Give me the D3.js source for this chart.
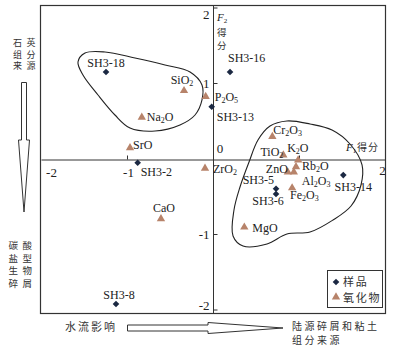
<!DOCTYPE html>
<html>
<head>
<meta charset="utf-8">
<script src="https://cdn.jsdelivr.net/npm/d3@7"></script>
<style>
  body { margin: 0; background: #fff; }
  svg text { font-family: "Liberation Serif", "Times New Roman", serif; fill: #222; }
  svg text.cn { font-family: "Noto Sans CJK SC", sans-serif; fill: #333; }
</style>
</head>
<body>
<div id="chart"></div>
<script>
// samples (F1, F2 scores)
const sampleNames = ["SH3-18", "SH3-16", "SH3-13", "SH3-2", "SH3-5", "SH3-6", "SH3-14", "SH3-8"];
const sampleF1 = [-1.244, 0.198, -0.015, -0.876, 0.733, 0.733, 1.515, -1.128];
const sampleF2 = [1.146, 1.146, 0.686, -0.056, -0.40, -0.47, -0.22, -1.927];

// oxides (F1, F2 loadings)
const oxideNames = ["SiO2", "Na2O", "P2O5", "SrO", "CaO", "ZrO2", "Cr2O3", "TiO2", "K2O", "Rb2O", "Al2O3", "ZnO", "Fe2O3", "MgO"];
const oxideF1 = [-0.337, -0.828, -0.085, -0.965, -0.605, -0.093, 0.690, 0.818, 0.99, 0.965, 0.94, 0.87, 0.92, 0.364];
const oxideF2 = [0.898, 0.544, 0.82, 0.14, -0.80, -0.13, 0.29, 0.046, -0.02, -0.11, -0.18, -0.18, -0.39, -0.91];

// the two grouping outlines
const groupQuartz = [[-1.570, 1.278], [-1.488, 1.397], [-1.256, 1.411], [-0.907, 1.331], [-0.558, 1.238],
  [-0.267, 1.146], [-0.128, 0.974], [-0.128, 0.775], [-0.209, 0.576], [-0.384, 0.444], [-0.674, 0.364],
  [-0.965, 0.404], [-1.140, 0.576], [-1.337, 0.841], [-1.512, 1.106]];
const groupTerrigenous = [[0.523, 0.245], [0.663, 0.430], [0.860, 0.497], [1.128, 0.457], [1.384, 0.377],
  [1.593, 0.192], [1.733, -0.086], [1.721, -0.351], [1.605, -0.629], [1.395, -0.815], [1.128, -0.974],
  [0.860, -1.000], [0.628, -1.132], [0.349, -1.159], [0.233, -1.026], [0.244, -0.682], [0.314, -0.377],
  [0.419, -0.046]];

const xTicks = [-2, -1, 0, 1, 2];
const yTicks = [-2, -1, 1, 2];

// label placement: [anchor, dx, dy]
const labelPos = {
  "SH3-18": ["middle", 0, -5], "SH3-16": ["start", -2, -10], "SH3-13": ["start", 5, 14],
  "SH3-2": ["start", 3, 13], "SH3-5": ["end", -2, -5], "SH3-6": ["middle", -8, 11],
  "SH3-14": ["middle", 10, 16], "SH3-8": ["middle", 3, -5],
  "SiO2": ["middle", -2, -7], "Na2O": ["start", 5, 4], "P2O5": ["start", 9, 4],
  "SrO": ["start", 3, 1], "CaO": ["middle", 3, -7], "ZrO2": ["start", 8, 5],
  "Cr2O3": ["start", 1, -3], "TiO2": ["end", 0, 1], "K2O": ["start", -11, -8],
  "Rb2O": ["start", 6, 3], "Al2O3": ["start", 8, 13], "ZnO": ["end", 0, 1],
  "Fe2O3": ["start", -2, 11], "MgO": ["start", 8, 5]
};

const W = 398, H = 348;
const frame = { left: 40, top: 5, right: 385, bottom: 313 };
const sampleColor = "#1b2842", oxideColor = "#b7836a";
const dash = d => d < 0 ? "-" + Math.abs(d) : String(d);

const svg = d3.select("#chart").append("svg").attr("width", W).attr("height", H);

const x = d3.scaleLinear().domain([-2, 2]).range([41, 385]);
const y = d3.scaleLinear().domain([-2, 2]).range([309.5, 7.5]);
const x0 = Math.round(x(0)) + 0.5, y0 = Math.round(y(0)) + 0.5;

// frame
svg.append("rect")
  .attr("x", frame.left + 0.5).attr("y", frame.top + 0.5)
  .attr("width", frame.right - frame.left).attr("height", frame.bottom - frame.top)
  .attr("fill", "none").attr("stroke", "#333").attr("stroke-width", 1.2);

// axes through origin
const xAxis = svg.append("g")
  .attr("transform", `translate(0,${y0})`)
  .call(d3.axisBottom(x).tickValues(xTicks).tickFormat(dash)
    .tickSizeInner(-4).tickSizeOuter(0).tickPadding(6));
xAxis.select(".domain").attr("stroke", "#333");
xAxis.selectAll("line").attr("stroke", "#333");
xAxis.selectAll(".tick").filter(d => d === 0 || d === 1).select("text").remove();
xAxis.selectAll(".tick").filter(d => d === 0 || d === 2 || d === -2).select("line").remove();
xAxis.selectAll("text")
  .style("font-family", "Liberation Serif, serif").style("font-size", "13px").attr("fill", "#222")
  .attr("x", d => d === -2 ? 10 : (d === 2 ? -3 : 1))
  .attr("y", d => d === 2 ? 6 : 8);

// origin label sits above the axis
svg.append("text").attr("x", x(0) + 7).attr("y", y(0) - 6)
  .attr("text-anchor", "middle").style("font-size", "13px").attr("fill", "#222").text(dash(0));

const yAxis = svg.append("g")
  .attr("transform", `translate(${x0},0)`)
  .call(d3.axisLeft(y).tickValues(yTicks).tickFormat(dash)
    .tickSizeInner(-4).tickSizeOuter(0).tickPadding(4));
yAxis.select(".domain").remove();
yAxis.selectAll("line").attr("stroke", "#333");
yAxis.selectAll("text")
  .style("font-family", "Liberation Serif, serif").style("font-size", "13px").attr("fill", "#222")
  .attr("y", d => d === 2 ? 7 : (d === -2 ? -4 : 0));
svg.append("line")
  .attr("x1", x0).attr("x2", x0)
  .attr("y1", frame.top).attr("y2", frame.bottom)
  .attr("stroke", "#333");

// axis titles
const f2t = svg.append("text").attr("x", 217).attr("y", 21).style("font-size", "11px");
f2t.append("tspan").style("font-style", "italic").text("F");
f2t.append("tspan").attr("dy", 2).style("font-size", "7px").text("2");
svg.append("text").attr("class", "cn").attr("x", 217).attr("y", 36).style("font-size", "9.5px").text("得");
svg.append("text").attr("class", "cn").attr("x", 217).attr("y", 48.5).style("font-size", "9.5px").text("分");

const f1t = svg.append("text").attr("x", 346).attr("y", 151).style("font-size", "11px");
f1t.append("tspan").style("font-style", "italic").text("F");
f1t.append("tspan").attr("dy", 2).style("font-size", "7px").text("1");
svg.append("text").attr("class", "cn").attr("x", 357).attr("y", 151)
  .style("font-size", "10px").style("letter-spacing", "1px").text("得分");

// group outlines
const outline = d3.line().x(d => x(d[0])).y(d => y(d[1])).curve(d3.curveCatmullRomClosed.alpha(0.5));
[groupQuartz, groupTerrigenous].forEach(g => {
  svg.append("path").attr("d", outline(g))
    .attr("fill", "none").attr("stroke", "#222").attr("stroke-width", 1.1);
});

// chemical formula: digits set lower and smaller
function writeFormula(sel, name) {
  let shifted = false;
  name.match(/[A-Za-z]+|\d+/g).forEach(p => {
    const isNum = /\d/.test(p);
    const ts = sel.append("tspan").text(p);
    if (isNum) { ts.attr("dy", 2).style("font-size", "8px"); shifted = true; }
    else if (shifted) { ts.attr("dy", -2); shifted = false; }
  });
}

const samples = sampleNames.map((n, i) => ({ name: n, f1: sampleF1[i], f2: sampleF2[i] }));
const oxides = oxideNames.map((n, i) => ({ name: n, f1: oxideF1[i], f2: oxideF2[i] }));

const tri = d3.symbol().type(d3.symbolTriangle).size(30);
const dia = d3.symbol().type(d3.symbolSquare).size(22);

svg.append("g").selectAll("path").data(oxides).join("path")
  .attr("d", tri)
  .attr("transform", d => `translate(${x(d.f1)},${y(d.f2)})`)
  .attr("fill", oxideColor);

svg.append("g").selectAll("path").data(samples).join("path")
  .attr("d", dia)
  .attr("transform", d => `translate(${x(d.f1)},${y(d.f2)}) rotate(45)`)
  .attr("fill", sampleColor);

oxides.forEach(d => {
  const p = labelPos[d.name];
  const t = svg.append("text")
    .attr("x", x(d.f1) + p[1]).attr("y", y(d.f2) + p[2])
    .attr("text-anchor", p[0]).style("font-size", "12px");
  writeFormula(t, d.name);
});
samples.forEach(d => {
  const p = labelPos[d.name];
  svg.append("text")
    .attr("x", x(d.f1) + p[1]).attr("y", y(d.f2) + p[2])
    .attr("text-anchor", p[0]).style("font-size", "12px").text(d.name);
});

// legend
const lg = svg.append("g");
lg.append("rect").attr("x", 327.5).attr("y", 270.5).attr("width", 55).attr("height", 37)
  .attr("fill", "#fff").attr("stroke", "#333").attr("stroke-width", 1);
lg.append("path").attr("d", dia).attr("transform", "translate(336,282) rotate(45)").attr("fill", sampleColor);
lg.append("path").attr("d", tri).attr("transform", "translate(336,297)").attr("fill", oxideColor);
lg.append("text").attr("class", "cn").attr("x", 343).attr("y", 286)
  .style("font-size", "11px").style("letter-spacing", "1.8px").text("样品");
lg.append("text").attr("class", "cn").attr("x", 343).attr("y", 301.5)
  .style("font-size", "11px").style("letter-spacing", "1.8px").text("氧化物");

// side notes, two characters per row
function cnRows(rows, left, top, step, size, spacing) {
  rows.forEach((r, i) => {
    svg.append("text").attr("class", "cn")
      .attr("x", left).attr("y", top + i * step)
      .style("font-size", size + "px").style("letter-spacing", spacing + "px").text(r);
  });
}
cnRows(["石英", "组分", "来源"], 13, 46, 11.5, 9, 4.5);
cnRows(["碳酸", "盐型", "生物", "碎屑"], 8.5, 249, 12.7, 9.5, 4.5);

// hollow arrows
svg.append("path")
  .attr("d", "M21.5,82.5 L26.5,82.5 L26.5,140 L29.5,140 L24,212 L18.5,140 L21.5,140 Z")
  .attr("fill", "#fff").attr("stroke", "#333").attr("stroke-width", 1);
svg.append("path")
  .attr("d", "M127.5,325 L208,325 L208,322.5 L283,328 L208,333.5 L208,331 L127.5,331 Z")
  .attr("fill", "#fff").attr("stroke", "#333").attr("stroke-width", 1);

svg.append("text").attr("class", "cn").attr("x", 65).attr("y", 331)
  .style("font-size", "11px").style("letter-spacing", "2px").text("水流影响");
svg.append("text").attr("class", "cn").attr("x", 292).attr("y", 330)
  .style("font-size", "10px").style("letter-spacing", "2.5px").text("陆源碎屑和粘土");
svg.append("text").attr("class", "cn").attr("x", 292).attr("y", 343.5)
  .style("font-size", "10px").style("letter-spacing", "2.5px").text("组分来源");
</script>
</body>
</html>
